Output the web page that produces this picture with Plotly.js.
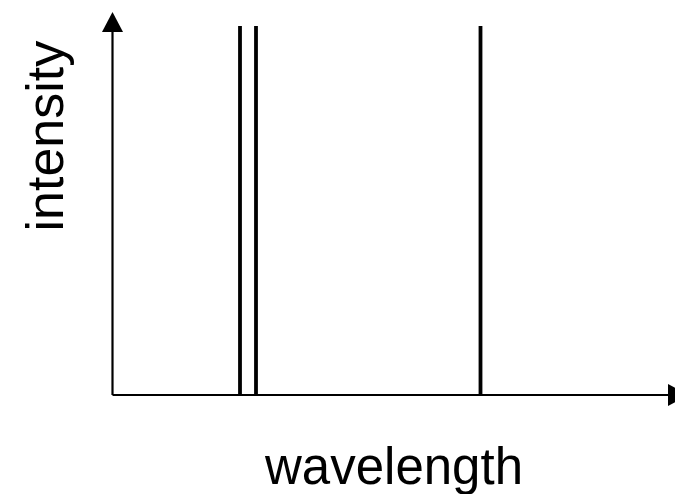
<!DOCTYPE html>
<html>
<head>
<meta charset="utf-8">
<script src="https://cdn.plot.ly/plotly-3.0.1.min.js"></script>
<style>html,body{margin:0;padding:0;background:#fff;}#chart{width:675px;height:494px;}</style>
</head>
<body>
<div id="chart"></div>
<script>
// Emission line positions (arbitrary wavelength units) and their intensities
const linePositions = [25.5, 28.7, 73.6];
const lineIntensities = [73.8, 73.8, 73.8];
const xAxisLabel = "wavelength";
const yAxisLabel = "intensity";

// Axis extent (arrow ends)
const xAxisEnd = 111.1;
const yAxisEnd = 72.6;

const xs = [], ys = [];
linePositions.forEach((p, i) => { xs.push(p, p, null); ys.push(0, lineIntensities[i], null); });

const traces = [
  {x: xs, y: ys, mode: 'lines', line: {color: '#000', width: 3.8}, hoverinfo: 'skip', cliponaxis: false},
  // axis lines
  {x: [0, 0, null, 0, xAxisEnd], y: [yAxisEnd, 0, null, 0, 0], mode: 'lines', line: {color: '#000', width: 2.2}, hoverinfo: 'skip', cliponaxis: false}
];

const shapes = [
  {type: 'path', xref: 'x', yref: 'y', path: `M -2.1 ${yAxisEnd} L 2.1 ${yAxisEnd} L 0 76.6 Z`, fillcolor: '#000', line: {width: 0}, layer: 'above'},
  {type: 'path', xref: 'x', yref: 'y', path: `M ${xAxisEnd} -2.2 L ${xAxisEnd} 2.2 L 115.1 0 Z`, fillcolor: '#000', line: {width: 0}, layer: 'above'}
];

const layout = {
  width: 675, height: 494,
  margin: {l: 100, r: 0, t: 0, b: 84, pad: 0},
  paper_bgcolor: '#fff', plot_bgcolor: '#fff',
  showlegend: false,
  xaxis: {range: [-2.5, 112.5], visible: false, fixedrange: true},
  yaxis: {range: [-3, 79], visible: false, fixedrange: true},
  shapes: shapes,
  annotations: [
    {text: xAxisLabel, xref: 'paper', yref: 'paper', x: 0.51, y: -0.137, xanchor: 'center', yanchor: 'middle', showarrow: false, font: {family: 'Liberation Sans, Arial, sans-serif', size: 51, color: '#000'}},
    {text: yAxisLabel, xref: 'paper', yref: 'paper', x: -0.095, y: 0.668, xanchor: 'center', yanchor: 'middle', textangle: -90, showarrow: false, font: {family: 'Liberation Sans, Arial, sans-serif', size: 52, color: '#000'}}
  ]
};

Plotly.newPlot('chart', traces, layout, {displayModeBar: false, staticPlot: true});
</script>
</body>
</html>
